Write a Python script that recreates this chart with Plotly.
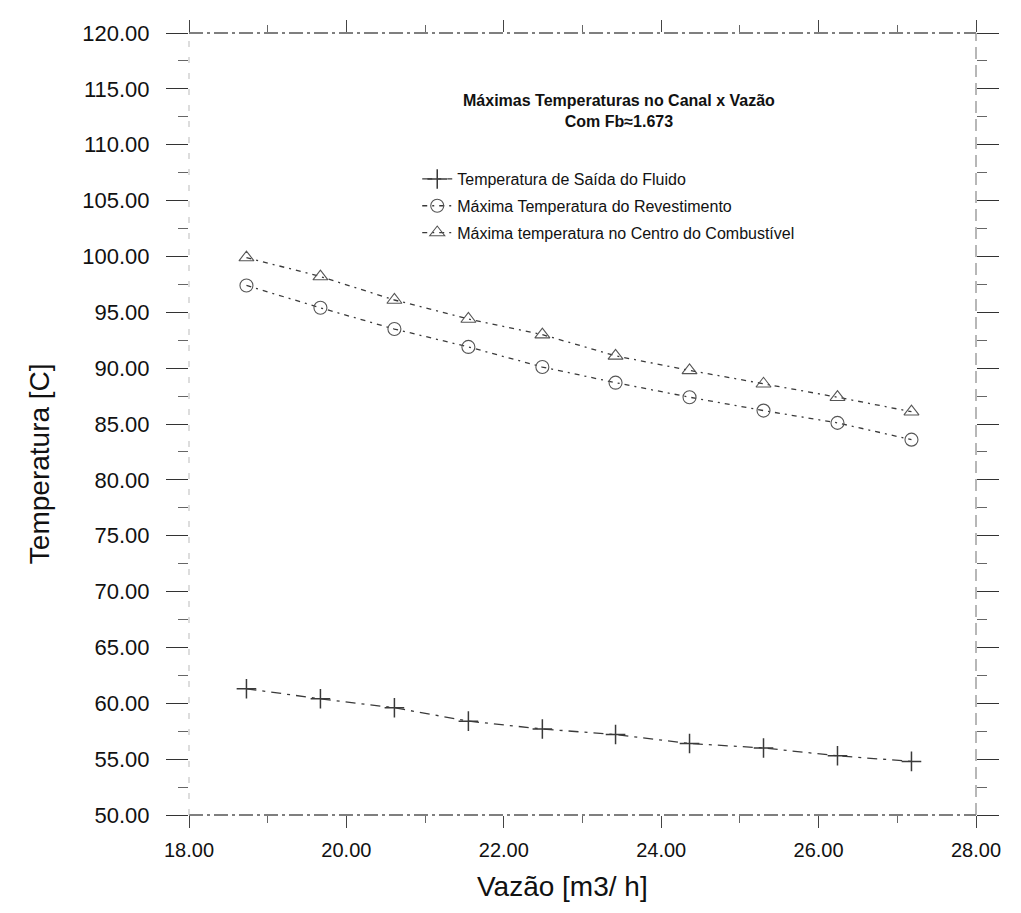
import plotly.graph_objects as go

# Data
vazao = [18.73, 19.67, 20.61, 21.55, 22.49, 23.42, 24.36, 25.30, 26.24, 27.18]
t_saida_fluido = [61.3, 60.4, 59.6, 58.4, 57.7, 57.2, 56.4, 56.0, 55.3, 54.8]
t_max_revest = [97.4, 95.4, 93.5, 91.9, 90.1, 88.7, 87.4, 86.2, 85.1, 83.6]
t_max_centro = [99.9, 98.2, 96.1, 94.4, 93.0, 91.1, 89.8, 88.6, 87.4, 86.1]

names = ["Temperatura de Saída do Fluido",
         "Máxima Temperatura do Revestimento",
         "Máxima temperatura no Centro do Combustível"]
title_text = "Máximas Temperaturas no Canal x Vazão<br>Com Fb≈1.673"
x_title = "Vazão [m3/ h]"
y_title = "Temperatura [C]"

x_tickvals = [18, 20, 22, 24, 26, 28]
y_tickvals = [50, 55, 60, 65, 70, 75, 80, 85, 90, 95, 100, 105, 110, 115, 120]

FONT = "Liberation Sans, Arial, sans-serif"
LC = "#3a3a3a"

fig = go.Figure()
fig.add_trace(go.Scatter(
    x=vazao, y=t_saida_fluido, name=names[0], mode="lines+markers",
    legendgroup="a",
    line=dict(color=LC, width=1.3, dash="10px,6px,3px,6px"),
    marker=dict(symbol="cross-thin-open", size=14, line=dict(color="#222", width=1.5))))
fig.add_trace(go.Scatter(
    x=vazao, y=t_max_revest, name=names[1], mode="lines+markers",
    legendgroup="b",
    line=dict(color=LC, width=1.3, dash="5px,5px,2px,5px"),
    marker=dict(symbol="circle-open", size=13, color="#555", line=dict(color="#555", width=1.1))))
fig.add_trace(go.Scatter(
    x=vazao, y=t_max_centro, name=names[2], mode="lines+markers",
    legendgroup="c",
    line=dict(color=LC, width=1.3, dash="5px,5px,2px,5px"),
    marker=dict(symbol="triangle-up-open", size=13, color="#555", line=dict(color="#555", width=1.1))))

# frame (dashed, as in the scanned original)
fig.add_shape(type="line", xref="x domain", yref="y domain", x0=0, x1=1, y0=1, y1=1,
              line=dict(color="#555", width=1.5, dash="14px,4px,3px,4px"))
fig.add_shape(type="line", xref="x domain", yref="y domain", x0=0, x1=1, y0=0, y1=0,
              line=dict(color="#555", width=1.5, dash="14px,4px,3px,4px"))
fig.add_shape(type="line", xref="x domain", yref="y domain", x0=1, x1=1, y0=0, y1=1,
              line=dict(color="#888", width=1.2, dash="12px,6px"))
fig.add_shape(type="line", xref="x domain", yref="y domain", x0=0, x1=0, y0=0, y1=1,
              line=dict(color="#bbb", width=1, dash="6px,10px"))

fig.add_annotation(text="<b>" + title_text.replace("<br>", "</b><br><b>") + "</b>",
                   xref="paper", yref="paper", x=0.546, y=0.90, yanchor="middle",
                   showarrow=False, font=dict(family=FONT, size=16, color="#111"),
                   align="center")

# axis titles (placed as in the reference)
fig.add_annotation(text=x_title, xref="paper", yref="paper", x=0.474, y=-0.091,
                   xanchor="center", yanchor="middle", showarrow=False,
                   font=dict(family=FONT, size=28, color="#111"))
fig.add_annotation(text=y_title, xref="paper", yref="paper", x=-0.189, y=0.449,
                   xanchor="center", yanchor="middle", showarrow=False, textangle=-90,
                   font=dict(family=FONT, size=28, color="#111"))

fig.update_layout(
    width=1021, height=913,
    margin=dict(l=189, r=45, t=33, b=98, autoexpand=False),
    paper_bgcolor="white", plot_bgcolor="white",
    font=dict(family=FONT, color="#111"),
    showlegend=True,
    legend=dict(x=0.29, y=0.835, xanchor="left", yanchor="top",
                bgcolor="rgba(0,0,0,0)", font=dict(family=FONT, size=16, color="#111"),
                tracegroupgap=3, traceorder="grouped"),
)
fig.update_xaxes(
    range=[18, 28], tickvals=x_tickvals, tickformat=".2f",
    showgrid=False, zeroline=False, showline=False,
    ticks="outside", ticklen=12, tickcolor="#444", tickwidth=1,
    mirror="ticks",
    minor=dict(dtick=1, tick0=18, ticks="outside", ticklen=7, tickcolor="#666", showgrid=False),
    tickfont=dict(family=FONT, size=20, color="#111"),
    ticklabelstandoff=5,
)
fig.update_yaxes(
    range=[50, 120], tickvals=y_tickvals, tickformat=".2f",
    showgrid=False, zeroline=False, showline=False,
    ticks="outside", ticklen=22, tickcolor="#333", tickwidth=1,
    mirror="ticks",
    minor=dict(dtick=2.5, tick0=50, ticks="outside", ticklen=10, tickcolor="#666", showgrid=False),
    tickfont=dict(family=FONT, size=22, color="#111"),
    ticklabelstandoff=12,
)

fig.write_html("out.html")
